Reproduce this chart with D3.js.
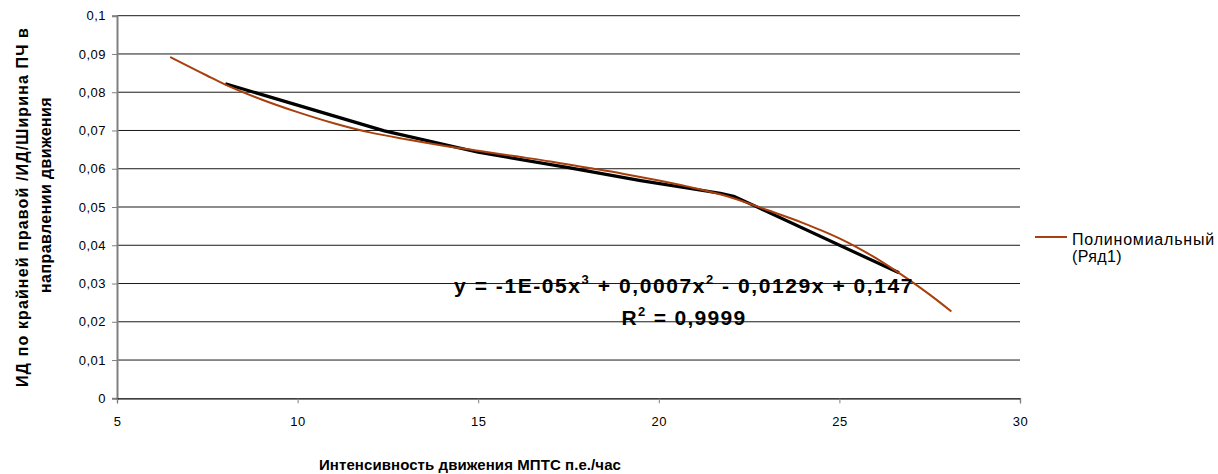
<!DOCTYPE html>
<html>
<head>
<meta charset="utf-8">
<script src="https://cdn.jsdelivr.net/npm/d3@7"></script>
<style>
  html, body { margin: 0; padding: 0; background: #fff; }
  svg { display: block; font-family: "Liberation Sans", Arial, sans-serif; }
</style>
</head>
<body>
<svg id="chart" width="1218" height="474"></svg>
<script>
// ---- data ----
const xTicks = [5, 10, 15, 20, 25, 30];
const xTickLabels = ["5", "10", "15", "20", "25", "30"];
const yTicks = [0, 0.01, 0.02, 0.03, 0.04, 0.05, 0.06, 0.07, 0.08, 0.09, 0.1];
const yTickLabels = ["0", "0,01", "0,02", "0,03", "0,04", "0,05", "0,06", "0,07", "0,08", "0,09", "0,1"];

// data series (Ряд1), black line
const seriesX = [8, 12.4, 15, 17.5, 19.5, 21.7, 22.1, 22.7, 26.65];
const seriesY = [0.0822, 0.0699, 0.0643, 0.0603, 0.0569, 0.0536, 0.0527, 0.0501, 0.0328];

// polynomial trendline, brown line
const trendX = [6.47, 7.5, 8, 9, 10, 11, 12, 13, 14, 15, 16, 17, 18, 19, 20, 21, 22, 23, 24, 24.5, 25, 25.5, 26, 26.5, 27, 27.5, 28.1];
const trendY = [0.0892, 0.0843, 0.0820, 0.0781, 0.0748, 0.0719, 0.0695, 0.0677, 0.0661, 0.0647, 0.0633, 0.0619, 0.0603, 0.0587, 0.0569, 0.0549, 0.0525, 0.0492, 0.0458, 0.0439, 0.0418, 0.0394, 0.0367, 0.0337, 0.0305, 0.0271, 0.0227];

const xTitle = "Интенсивность движения МПТС п.е./час";
const yTitleLines = ["ИД по крайней правой /ИД/Ширина ПЧ в", "направлении движения"];
const legendLines = ["Полиномиальный", "(Ряд1)"];
const equationText = ["y = -1E-05x", "3", " + 0,0007x", "2", " - 0,0129x + 0,147"];
const r2Text = ["R", "2", " = 0,9999"];

// ---- drawing ----
const svg = d3.select("#chart");
const x = d3.scaleLinear().domain([5, 30]).range([117, 1020]);
const y = d3.scaleLinear().domain([0, 0.1]).range([398.3, 15.7]);

// stretch a text element to a target width using letter-spacing
function fitWidth(sel, target) {
  const node = sel.node();
  const len = node.getComputedTextLength();
  const n = node.textContent.length;
  if (n > 1) sel.attr("letter-spacing", (target - len) / n);
  return sel;
}

// gridlines
svg.append("g").selectAll("line").data(yTicks.filter(d => d > 0)).join("line")
  .attr("x1", x(5)).attr("x2", x(30))
  .attr("y1", d => y(d)).attr("y2", d => y(d))
  .attr("stroke", "#1a1a1a").attr("stroke-width", 1);

// y axis
const yAxis = d3.axisLeft(y).tickValues(yTicks).tickSize(5).tickPadding(6)
  .tickFormat((d, i) => yTickLabels[i]);
const gy = svg.append("g").attr("transform", `translate(${x(5)},0)`).call(yAxis);
gy.select(".domain").attr("stroke", "#808080").attr("stroke-width", 2);
gy.selectAll(".tick line").attr("stroke", "#808080");
gy.selectAll(".tick text").attr("font-size", 13).attr("fill", "#000")
  .attr("letter-spacing", 0.5)
  .attr("font-family", "Liberation Sans, Arial, sans-serif");

// x axis
const xAxis = d3.axisBottom(x).tickValues(xTicks).tickSize(5).tickPadding(13)
  .tickFormat((d, i) => xTickLabels[i]);
const gx = svg.append("g").attr("transform", `translate(0,${y(0)})`).call(xAxis);
gx.select(".domain").attr("stroke", "#000").attr("stroke-width", 1.2);
gx.selectAll(".tick line").attr("stroke", "#808080");
gx.selectAll(".tick text").attr("font-size", 13).attr("fill", "#000")
  .attr("letter-spacing", 0.5)
  .attr("font-family", "Liberation Sans, Arial, sans-serif");

const line = d3.line().x(d => x(d[0])).y(d => y(d[1]));

// data series
svg.append("path")
  .datum(seriesX.map((v, i) => [v, seriesY[i]]))
  .attr("d", line)
  .attr("fill", "none").attr("stroke", "#000").attr("stroke-width", 3.2)
  .attr("stroke-linejoin", "round");

// trendline
svg.append("path")
  .datum(trendX.map((v, i) => [v, trendY[i]]))
  .attr("d", d3.line().curve(d3.curveMonotoneX).x(d => x(d[0])).y(d => y(d[1])))
  .attr("fill", "none").attr("stroke", "#A8400E").attr("stroke-width", 2);

// equation
function richText(parts, cx, by, target) {
  const t = svg.append("text").attr("x", cx).attr("y", by)
    .attr("text-anchor", "middle").attr("font-weight", "bold")
    .attr("font-size", 21).attr("fill", "#000");
  parts.forEach((p, i) => {
    const sup = i % 2 === 1;
    t.append("tspan").text(p)
      .attr("font-size", sup ? 13 : 21)
      .attr("dy", sup ? -9 : (i > 0 ? 9 : 0));
  });
  fitWidth(t, target);
  return t;
}
richText(equationText, 684, 293, 460);
richText(r2Text, 684, 325, 125);

// axis titles
const xt = svg.append("text").attr("x", 470).attr("y", 470)
  .attr("text-anchor", "middle").attr("font-weight", "bold").attr("font-size", 15)
  .text(xTitle);
fitWidth(xt, 302);

const yt = svg.append("g").attr("transform", "translate(0,207) rotate(-90)");
const ytTargets = [360, 196];
yTitleLines.forEach((t, i) => {
  const el = yt.append("text").attr("x", i === 0 ? 0 : 12).attr("y", 28 + i * 23)
    .attr("text-anchor", "middle").attr("font-weight", "bold").attr("font-size", 16)
    .text(t);
  fitWidth(el, ytTargets[i]);
});

// legend
svg.append("line").attr("x1", 1035).attr("x2", 1067).attr("y1", 237).attr("y2", 237)
  .attr("stroke", "#A8400E").attr("stroke-width", 2);
legendLines.forEach((t, i) => {
  const el = svg.append("text").attr("x", 1072).attr("y", 245 + i * 17)
    .attr("font-size", 16).attr("fill", "#000").text(t);
  if (i === 0) fitWidth(el, 143);
  else el.attr("letter-spacing", 0.4);
});
</script>
</body>
</html>
